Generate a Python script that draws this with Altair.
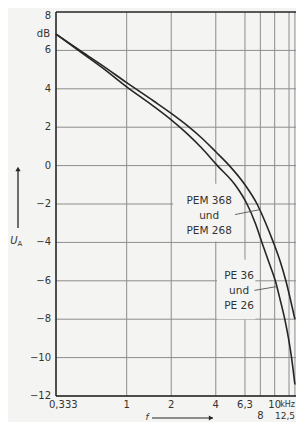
import altair as alt
import pandas as pd

# ---- data ----
freq_pem = [0.333, 0.5, 0.683, 1.0, 1.53, 2.0, 2.57, 3.2, 4.0, 4.94, 6.3, 7.6, 8.7, 9.8, 10.9, 11.9, 12.8, 13.7]
db_pem = [6.85, 5.92, 5.22, 4.32, 3.35, 2.72, 2.08, 1.45, 0.72, 0.0, -1.0, -2.0, -3.0, -4.0, -5.0, -6.0, -7.0, -8.0]

freq_pe = [0.333, 0.5, 0.683, 1.0, 1.53, 2.0, 2.57, 3.2, 4.1, 5.4, 6.5, 7.4, 8.2, 9.1, 10.1, 10.9, 11.7, 12.4, 13.0, 13.7]
db_pe = [6.85, 5.86, 5.1, 4.1, 3.07, 2.38, 1.65, 0.93, 0.0, -1.0, -2.0, -3.0, -4.0, -5.0, -6.0, -7.0, -8.0, -9.0, -10.0, -11.4]

x_grid = [1, 2, 4, 6.3, 8, 10, 12.5, 13.7]
y_ticks = [-12, -10, -8, -6, -4, -2, 0, 2, 4, 6]
y_top = [8]

x_labels_row1 = ["1", "2", "4", "6,3", "10"]
x_labels_row1_f = [1, 2, 4, 6.3, 10]
x_labels_row2 = ["8"]
x_labels_row2_f = [8]
x_label_last = ["12,5"]
x_label_last_f = [12.5]

label_pem = ["PEM 368", "und", "PEM 268"]
label_pe = ["PE 36", "und", "PE 26"]

# ---- tables ----
curves = pd.concat([
    pd.DataFrame({"f": freq_pem, "dB": db_pem, "s": "PEM"}),
    pd.DataFrame({"f": freq_pe, "dB": db_pe, "s": "PE"}),
])

W, H = 240, 384
XMIN = 0.333
XMAX = 0.333 * 10 ** (W / 148.0)
xs = alt.Scale(type="log", domain=[XMIN, XMAX], nice=False)
ys = alt.Scale(domain=[-12, 8], nice=False)

INK = "#262626"
GRID = "#8c8c8c"
TXT = "#333333"
BG = "#f4f4f2"
FONT = "DejaVu Sans"


def X(field):
    return alt.X(field, scale=xs, axis=None)


def Y(field):
    return alt.Y(field, scale=ys, axis=None)


# grid
vgrid = alt.Chart(pd.DataFrame({"f": x_grid})).mark_rule(color=GRID, strokeWidth=1).encode(
    x=X("f:Q"), y=alt.value(0), y2=alt.value(H))
hgrid = alt.Chart(pd.DataFrame({"dB": y_ticks})).mark_rule(color=GRID, strokeWidth=1).encode(
    y=Y("dB:Q"), x=alt.value(0), x2=alt.value(W))

# boxes behind the curve labels (interrupt the grid like the original)
boxes_df = pd.DataFrame({"f1": [2.06, 4.08], "f2": [6.2, 7.4], "d1": [-0.95, -4.9], "d2": [-3.95, -8.0]})
boxes = alt.Chart(boxes_df).mark_rect(color=BG).encode(
    x=X("f1:Q"), x2="f2:Q", y=Y("d1:Q"), y2="d2:Q")

# frame (left, bottom, top)
frame_left = alt.Chart(pd.DataFrame({"a": [0]})).mark_rule(color=INK, strokeWidth=1.6).encode(
    x=alt.value(0), y=alt.value(0), y2=alt.value(H))
frame_h = alt.Chart(pd.DataFrame({"dB": [-12, 8]})).mark_rule(color=INK, strokeWidth=1.5).encode(
    y=Y("dB:Q"), x=alt.value(0), x2=alt.value(W))

# curves
lines = alt.Chart(curves).mark_line(color=INK, strokeWidth=1.6, interpolate="monotone").encode(
    x=X("f:Q"), y=Y("dB:Q"), detail="s:N")

# y tick labels
ylab = alt.Chart(pd.DataFrame({"dB": y_ticks})).mark_text(
    font=FONT, fontSize=10, color=TXT, align="right", baseline="middle").encode(
    x=alt.value(-5), y=Y("dB:Q"), text="dB:Q")
ylab_top = alt.Chart(pd.DataFrame({"dB": y_top})).mark_text(
    font=FONT, fontSize=10, color=TXT, align="right", baseline="middle", dy=4).encode(
    x=alt.value(-5), y=Y("dB:Q"), text="dB:Q")

# curve labels
lab_df = pd.DataFrame({
    "t": label_pem + label_pe,
    "f": [3.61] * 3 + [5.75] * 3,
    "dB": [-1.85, -2.62, -3.4, -5.77, -6.54, -7.32],
})
labels = alt.Chart(lab_df).mark_text(font=FONT, fontSize=10.5, color=TXT, align="center", baseline="middle").encode(
    x=X("f:Q"), y=Y("dB:Q"), text="t:N")

leader_df = pd.DataFrame({"f1": [5.4, 7.3], "f2": [7.85, 10.35], "d1": [-2.55, -6.5], "d2": [-2.3, -6.3]})
leaders = alt.Chart(leader_df).mark_rule(color="#555", strokeWidth=0.9).encode(
    x=X("f1:Q"), x2="f2:Q", y=Y("d1:Q"), y2="d2:Q")

# x tick labels (two rows)
row1 = alt.Chart(pd.DataFrame({"t": x_labels_row1, "f": x_labels_row1_f})).mark_text(
    font=FONT, fontSize=10, color=TXT, baseline="middle", align="center").encode(
    x=X("f:Q"), y=alt.value(H + 9), text="t:N")
first = alt.Chart(pd.DataFrame({"t": ["0,333"], "f": [XMIN]})).mark_text(
    font=FONT, fontSize=10, color=TXT, baseline="middle", align="left", dx=-7).encode(
    x=X("f:Q"), y=alt.value(H + 9), text="t:N")
unit = alt.Chart(pd.DataFrame({"t": ["kHz"]})).mark_text(
    font=FONT, fontSize=8, color=TXT, baseline="middle", align="right").encode(
    x=alt.value(W - 1), y=alt.value(H + 9), text="t:N")
row2 = alt.Chart(pd.DataFrame({"t": x_labels_row2, "f": x_labels_row2_f})).mark_text(
    font=FONT, fontSize=10, color=TXT, baseline="middle", align="center").encode(
    x=X("f:Q"), y=alt.value(H + 20), text="t:N")
last = alt.Chart(pd.DataFrame({"t": x_label_last, "f": x_label_last_f})).mark_text(
    font=FONT, fontSize=9, color=TXT, baseline="middle", align="center", dx=-4).encode(
    x=X("f:Q"), y=alt.value(H + 20), text="t:N")

one = pd.DataFrame({"a": [0]})
db_unit = alt.Chart(one).mark_text(font=FONT, fontSize=10, color=TXT, align="right", baseline="middle").encode(
    x=alt.value(-6), y=alt.value(22), text=alt.value("dB"))

# y quantity arrow and symbol
y_arrow = alt.Chart(one).mark_rule(color=INK, strokeWidth=1.3).encode(
    x=alt.value(-38), y=alt.value(157), y2=alt.value(216))
y_head = alt.Chart(one).mark_point(shape="triangle-up", filled=True, color=INK, size=28, opacity=1).encode(
    x=alt.value(-38), y=alt.value(157))
u_sym = alt.Chart(one).mark_text(font=FONT, fontSize=10, fontStyle="italic", color=TXT, align="center",
                                 baseline="middle").encode(x=alt.value(-42), y=alt.value(229), text=alt.value("U"))
a_sym = alt.Chart(one).mark_text(font=FONT, fontSize=7, color=TXT, align="center", baseline="middle").encode(
    x=alt.value(-36), y=alt.value(232), text=alt.value("A"))

# f arrow below x axis
f_sym = alt.Chart(one).mark_text(font=FONT, fontSize=9, fontStyle="italic", color=TXT, align="center",
                                 baseline="middle").encode(x=alt.value(91), y=alt.value(H + 21), text=alt.value("f"))
f_arrow = alt.Chart(one).mark_rule(color=INK, strokeWidth=1).encode(
    x=alt.value(96), x2=alt.value(157), y=alt.value(H + 22))
f_head = alt.Chart(one).mark_point(shape="triangle-right", filled=True, color=INK, size=24, opacity=1).encode(
    x=alt.value(155), y=alt.value(H + 22))

chart = alt.layer(
    vgrid, hgrid, boxes, frame_left, frame_h, lines, ylab, ylab_top, labels, leaders, row1, first, unit, row2,
    last, db_unit, y_arrow, y_head, u_sym, a_sym, f_sym, f_arrow, f_head,
).properties(
    width=W, height=H,
    padding={"left": 48, "top": 4, "right": 0, "bottom": 26},
    autosize=alt.AutoSizeParams(type="none"),
    background=BG,
).configure_view(stroke=None)

chart.save("out.html", embed_options={"renderer": "svg", "actions": False})
